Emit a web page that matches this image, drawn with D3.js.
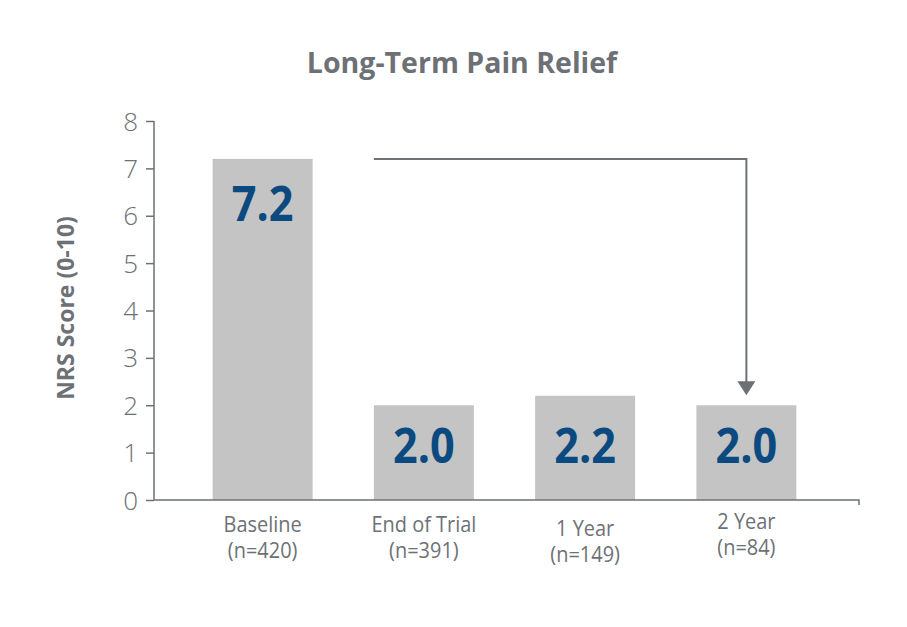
<!DOCTYPE html>
<html><head><meta charset="utf-8">
<script src="https://cdn.jsdelivr.net/npm/d3@7"></script>
<style>body{margin:0;background:#fff;} svg{display:block;}</style>
</head><body>
<svg id="chart" width="907" height="627"></svg>
<script>
const categories = ["Baseline", "End of Trial", "1 Year", "2 Year"];
const sampleSizes = ["(n=420)", "(n=391)", "(n=149)", "(n=84)"];
const scores = [7.2, 2.0, 2.2, 2.0];
const valueLabels = ["7.2", "2.0", "2.2", "2.0"];
const yTicks = [0, 1, 2, 3, 4, 5, 6, 7, 8];
const titleText = "Long-Term Pain Relief";
const yAxisTitle = "NRS Score (0-10)";

const svg = d3.select("#chart");
const gray = "#6d7175";
const barColor = "#c4c4c4";
const blue = "#0b4a80";

const x = d3.scaleBand().domain(categories).range([182, 827]).paddingInner(0.38).paddingOuter(0.19);
const y = d3.scaleLinear().domain([0, 8]).range([500, 121]);
const cx = d => x(d) + x.bandwidth() / 2;

// title
svg.append("text").attr("transform", "translate(462,73)").attr("text-anchor", "middle")
  .attr("font-family", "Open Sans").attr("font-weight", 700).attr("font-size", 28.5)
  .attr("fill", gray).text(titleText);

// bars
svg.selectAll("rect.bar").data(scores).join("rect").attr("class", "bar")
  .attr("x", (d, i) => x(categories[i])).attr("width", x.bandwidth())
  .attr("y", d => y(d)).attr("height", d => y(0) - y(d)).attr("fill", barColor);

// y axis
const yAxis = d3.axisLeft(y).tickValues(yTicks).tickSize(8).tickPadding(8).tickFormat(d3.format("d"));
const gy = svg.append("g").attr("transform", "translate(154,0)").call(yAxis);
gy.select(".domain").attr("stroke", gray).attr("stroke-width", 1.5).attr("d", "M0,121V500");
gy.selectAll(".tick line").attr("stroke", gray).attr("stroke-width", 1.5);
gy.selectAll(".tick text").attr("fill", gray).attr("font-family", "Open Sans").attr("font-weight", 300)
  .attr("font-size", 26).attr("dy", "0.35em");

// x axis line
const xAxis = d3.axisBottom(x).tickSize(0).tickFormat("");
const gx = svg.append("g").attr("transform", "translate(0,500)").call(xAxis);
gx.select(".domain").attr("stroke", gray).attr("stroke-width", 1.5).attr("d", "M154,0H859V5");

// category labels
const labelDy = [0, 0, 4, -3];
const cat = svg.append("g").selectAll("g").data(categories).join("g")
  .attr("transform", (d, i) => `translate(${cx(d)},${532 + labelDy[i]}) scale(0.95,1)`);
cat.append("text").attr("text-anchor", "middle").attr("font-family", "Open Sans").attr("font-size", 21)
  .attr("fill", gray).text(d => d);
cat.append("text").attr("y", 26).attr("text-anchor", "middle").attr("font-family", "Open Sans").attr("font-size", 21)
  .attr("fill", gray).text((d, i) => sampleSizes[i]);

// value labels
svg.append("g").selectAll("text").data(scores).join("text")
  .attr("transform", (d, i) => `translate(${cx(categories[i])},${i === 0 ? 221 : 463}) scale(0.9,1)`)
  .attr("text-anchor", "middle").attr("font-family", "Open Sans").attr("font-weight", 700)
  .attr("font-size", 48).attr("fill", blue).text((d, i) => valueLabels[i]);

// arrow from baseline to 2 year
const xStart = x(categories[1]);
const xEnd = cx(categories[3]);
const yTop = y(scores[0]);
const yTip = y(scores[3]) - 10;
svg.append("path").attr("d", `M${xStart},${yTop}H${xEnd}V${yTip - 12}`)
  .attr("fill", "none").attr("stroke", gray).attr("stroke-width", 2);
svg.append("path").attr("d", `M${xEnd - 9},${yTip - 14}L${xEnd + 9},${yTip - 14}L${xEnd},${yTip}Z`)
  .attr("fill", gray);

// y-axis title
svg.append("text").attr("transform", "translate(74,308) rotate(-90)").attr("text-anchor", "middle")
  .attr("font-family", "Open Sans").attr("font-weight", 700).attr("font-size", 23)
  .attr("fill", gray).text(yAxisTitle);
</script>
</body></html>
